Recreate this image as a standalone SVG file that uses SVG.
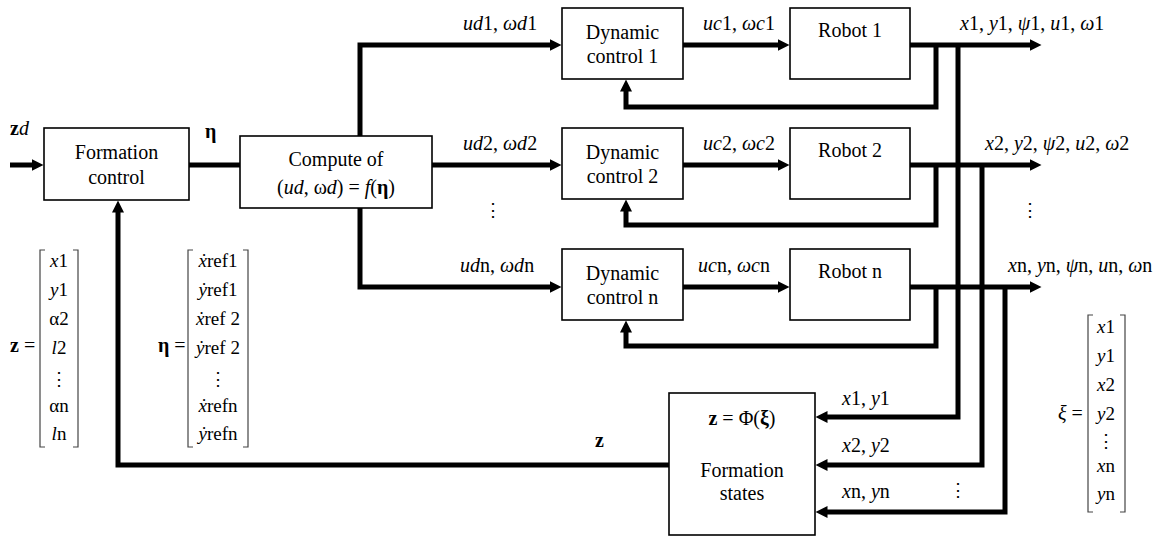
<svg xmlns="http://www.w3.org/2000/svg" width="1168" height="537" viewBox="0 0 1168 537" font-family="Liberation Serif">
<defs>
<style>
text{font-family:Liberation Serif,Times New Roman,serif;font-size:20px;fill:#000}
.c{text-anchor:middle}
.i{font-style:italic}
.b{font-weight:bold}
.m{font-size:19px}
.box{fill:#fff;stroke:#000;stroke-width:1.6}
.w{fill:none;stroke:#000;stroke-width:5;stroke-linejoin:miter}
.wa{fill:none;stroke:#000;stroke-width:5;stroke-linejoin:miter;marker-end:url(#ah)}
.br{fill:none;stroke:#444;stroke-width:1.2}
.dots{font-family:DejaVu Serif,serif;font-size:18px;text-anchor:middle}
</style>
<marker id="ah" viewBox="0 0 12 12" markerWidth="12" markerHeight="12" markerUnits="userSpaceOnUse" refX="0.5" refY="6" orient="auto">
<path d="M0,0 L12,6 L0,12 z" fill="#000"/>
</marker>
</defs>
<rect width="1168" height="537" fill="#fff"/>

<g id="connectors">
<path class="wa" d="M10,165 H32"/>
<path class="w" d="M189,165 H240"/>
<path class="wa" d="M360,136 V45 H550"/>
<path class="wa" d="M432,165 H550"/>
<path class="wa" d="M360,208 V287 H550"/>
<path class="wa" d="M683,45 H778"/>
<path class="wa" d="M683,165 H778"/>
<path class="wa" d="M683,287 H778"/>
<path class="wa" d="M910,45 H1030"/>
<path class="wa" d="M910,165 H1030"/>
<path class="wa" d="M910,287 H1030"/>
<path class="wa" d="M936,45 V107 H626 V91"/>
<path class="wa" d="M936,165 V225 H626 V211"/>
<path class="wa" d="M936,287 V346 H626 V332"/>
<path class="wa" d="M958,45 V417 H827"/>
<path class="wa" d="M982,165 V465 H827"/>
<path class="wa" d="M1005,287 V512 H827"/>
<path class="wa" d="M669,465 H118 V212"/>
<text x="10" y="135"><tspan class="b">z</tspan><tspan class="i">d</tspan></text>
<text x="205" y="138" class="b">η</text>
<text x="595" y="447" class="b">z</text>
<text x="463" y="30"><tspan class="i">ud</tspan>1, <tspan class="i">ωd</tspan>1</text>
<text x="463" y="150"><tspan class="i">ud</tspan>2, <tspan class="i">ωd</tspan>2</text>
<text x="460" y="272"><tspan class="i">ud</tspan>n, <tspan class="i">ωd</tspan>n</text>
<text class="dots" x="493" y="216">⋮</text>
<text x="703" y="30"><tspan class="i">uc</tspan>1, <tspan class="i">ωc</tspan>1</text>
<text x="703" y="150"><tspan class="i">uc</tspan>2, <tspan class="i">ωc</tspan>2</text>
<text x="698" y="272"><tspan class="i">uc</tspan>n, <tspan class="i">ωc</tspan>n</text>
<text x="960" y="30"><tspan class="i">x</tspan>1, <tspan class="i">y</tspan>1, <tspan class="i">ψ</tspan>1, <tspan class="i">u</tspan>1, <tspan class="i">ω</tspan>1</text>
<text x="985" y="150"><tspan class="i">x</tspan>2, <tspan class="i">y</tspan>2, <tspan class="i">ψ</tspan>2, <tspan class="i">u</tspan>2, <tspan class="i">ω</tspan>2</text>
<text x="1008" y="272"><tspan class="i">x</tspan>n, <tspan class="i">y</tspan>n, <tspan class="i">ψ</tspan>n, <tspan class="i">u</tspan>n, <tspan class="i">ω</tspan>n</text>
<text class="dots" x="1030" y="216">⋮</text>
<text x="842" y="405"><tspan class="i">x</tspan>1, <tspan class="i">y</tspan>1</text>
<text x="842" y="452"><tspan class="i">x</tspan>2, <tspan class="i">y</tspan>2</text>
<text x="842" y="498"><tspan class="i">x</tspan>n, <tspan class="i">y</tspan>n</text>
<text class="dots" x="958" y="496">⋮</text>
</g>

<g id="formation-control">
<rect class="box" x="44" y="128" width="145" height="72"/>
<text class="c" x="116.5" y="159">Formation</text>
<text class="c" x="116.5" y="184">control</text>
</g>

<g id="compute">
<rect class="box" x="240" y="136" width="192" height="72"/>
<text class="c" x="336" y="166">Compute of</text>
<text class="c" x="336" y="194">(<tspan class="i">ud</tspan>, ω<tspan class="i">d</tspan>) = <tspan class="i">f</tspan>(<tspan class="b">η</tspan>)</text>
</g>

<g id="dynamic-control-1">
<rect class="box" x="562" y="8" width="121" height="71"/>
<text class="c" x="622.5" y="39">Dynamic</text>
<text class="c" x="622.5" y="63">control 1</text>
</g>
<g id="dynamic-control-2">
<rect class="box" x="562" y="128" width="121" height="71"/>
<text class="c" x="622.5" y="159">Dynamic</text>
<text class="c" x="622.5" y="183">control 2</text>
</g>
<g id="dynamic-control-n">
<rect class="box" x="562" y="249" width="121" height="71"/>
<text class="c" x="622.5" y="280">Dynamic</text>
<text class="c" x="622.5" y="304">control n</text>
</g>

<g id="robot-1">
<rect class="box" x="790" y="8" width="120" height="71"/>
<text class="c" x="850" y="37">Robot 1</text>
</g>
<g id="robot-2">
<rect class="box" x="790" y="128" width="120" height="71"/>
<text class="c" x="850" y="157">Robot 2</text>
</g>
<g id="robot-n">
<rect class="box" x="790" y="249" width="120" height="71"/>
<text class="c" x="850" y="278">Robot n</text>
</g>

<g id="formation-states">
<rect class="box" x="669" y="393" width="146" height="142"/>
<text class="c" x="742" y="425"><tspan class="b">z</tspan> = Φ(<tspan class="b">ξ</tspan>)</text>
<text class="c" x="742" y="477">Formation</text>
<text class="c" x="742" y="500">states</text>
</g>

<g id="z-vector">
<text x="10" y="352"><tspan class="b">z</tspan> =</text>
<path class="br" d="M45,250 H40 V447 H45 M73,250 H78 V447 H73"/>
<text class="c m" x="59" y="267"><tspan class="i">x</tspan>1</text>
<text class="c m" x="59" y="296"><tspan class="i">y</tspan>1</text>
<text class="c m" x="59" y="325">α2</text>
<text class="c m" x="59" y="354"><tspan class="i">l</tspan>2</text>
<text class="dots" x="59" y="385">⋮</text>
<text class="c m" x="59" y="412">αn</text>
<text class="c m" x="59" y="440"><tspan class="i">l</tspan>n</text>
</g>

<g id="eta-vector">
<text x="158" y="352"><tspan class="b">η</tspan> =</text>
<path class="br" d="M193,250 H188 V447 H193 M243,250 H248 V447 H243"/>
<text class="c m" x="218" y="267"><tspan class="i">ẋ</tspan>ref1</text>
<text class="c m" x="218" y="296"><tspan class="i">ẏ</tspan>ref1</text>
<text class="c m" x="218" y="325"><tspan class="i">ẋ</tspan>ref 2</text>
<text class="c m" x="218" y="354"><tspan class="i">ẏ</tspan>ref 2</text>
<text class="dots" x="218" y="385">⋮</text>
<text class="c m" x="218" y="412"><tspan class="i">ẋ</tspan>refn</text>
<text class="c m" x="218" y="440"><tspan class="i">ẏ</tspan>refn</text>
</g>

<g id="xi-vector">
<text x="1058" y="420"><tspan class="i">ξ</tspan> =</text>
<path class="br" d="M1093,315 H1088 V512 H1093 M1120,315 H1125 V512 H1120"/>
<text class="c m" x="1106" y="333"><tspan class="i">x</tspan>1</text>
<text class="c m" x="1106" y="362"><tspan class="i">y</tspan>1</text>
<text class="c m" x="1106" y="391"><tspan class="i">x</tspan>2</text>
<text class="c m" x="1106" y="420"><tspan class="i">y</tspan>2</text>
<text class="dots" x="1106" y="447">⋮</text>
<text class="c m" x="1106" y="472"><tspan class="i">x</tspan>n</text>
<text class="c m" x="1106" y="500"><tspan class="i">y</tspan>n</text>
</g>
</svg>
